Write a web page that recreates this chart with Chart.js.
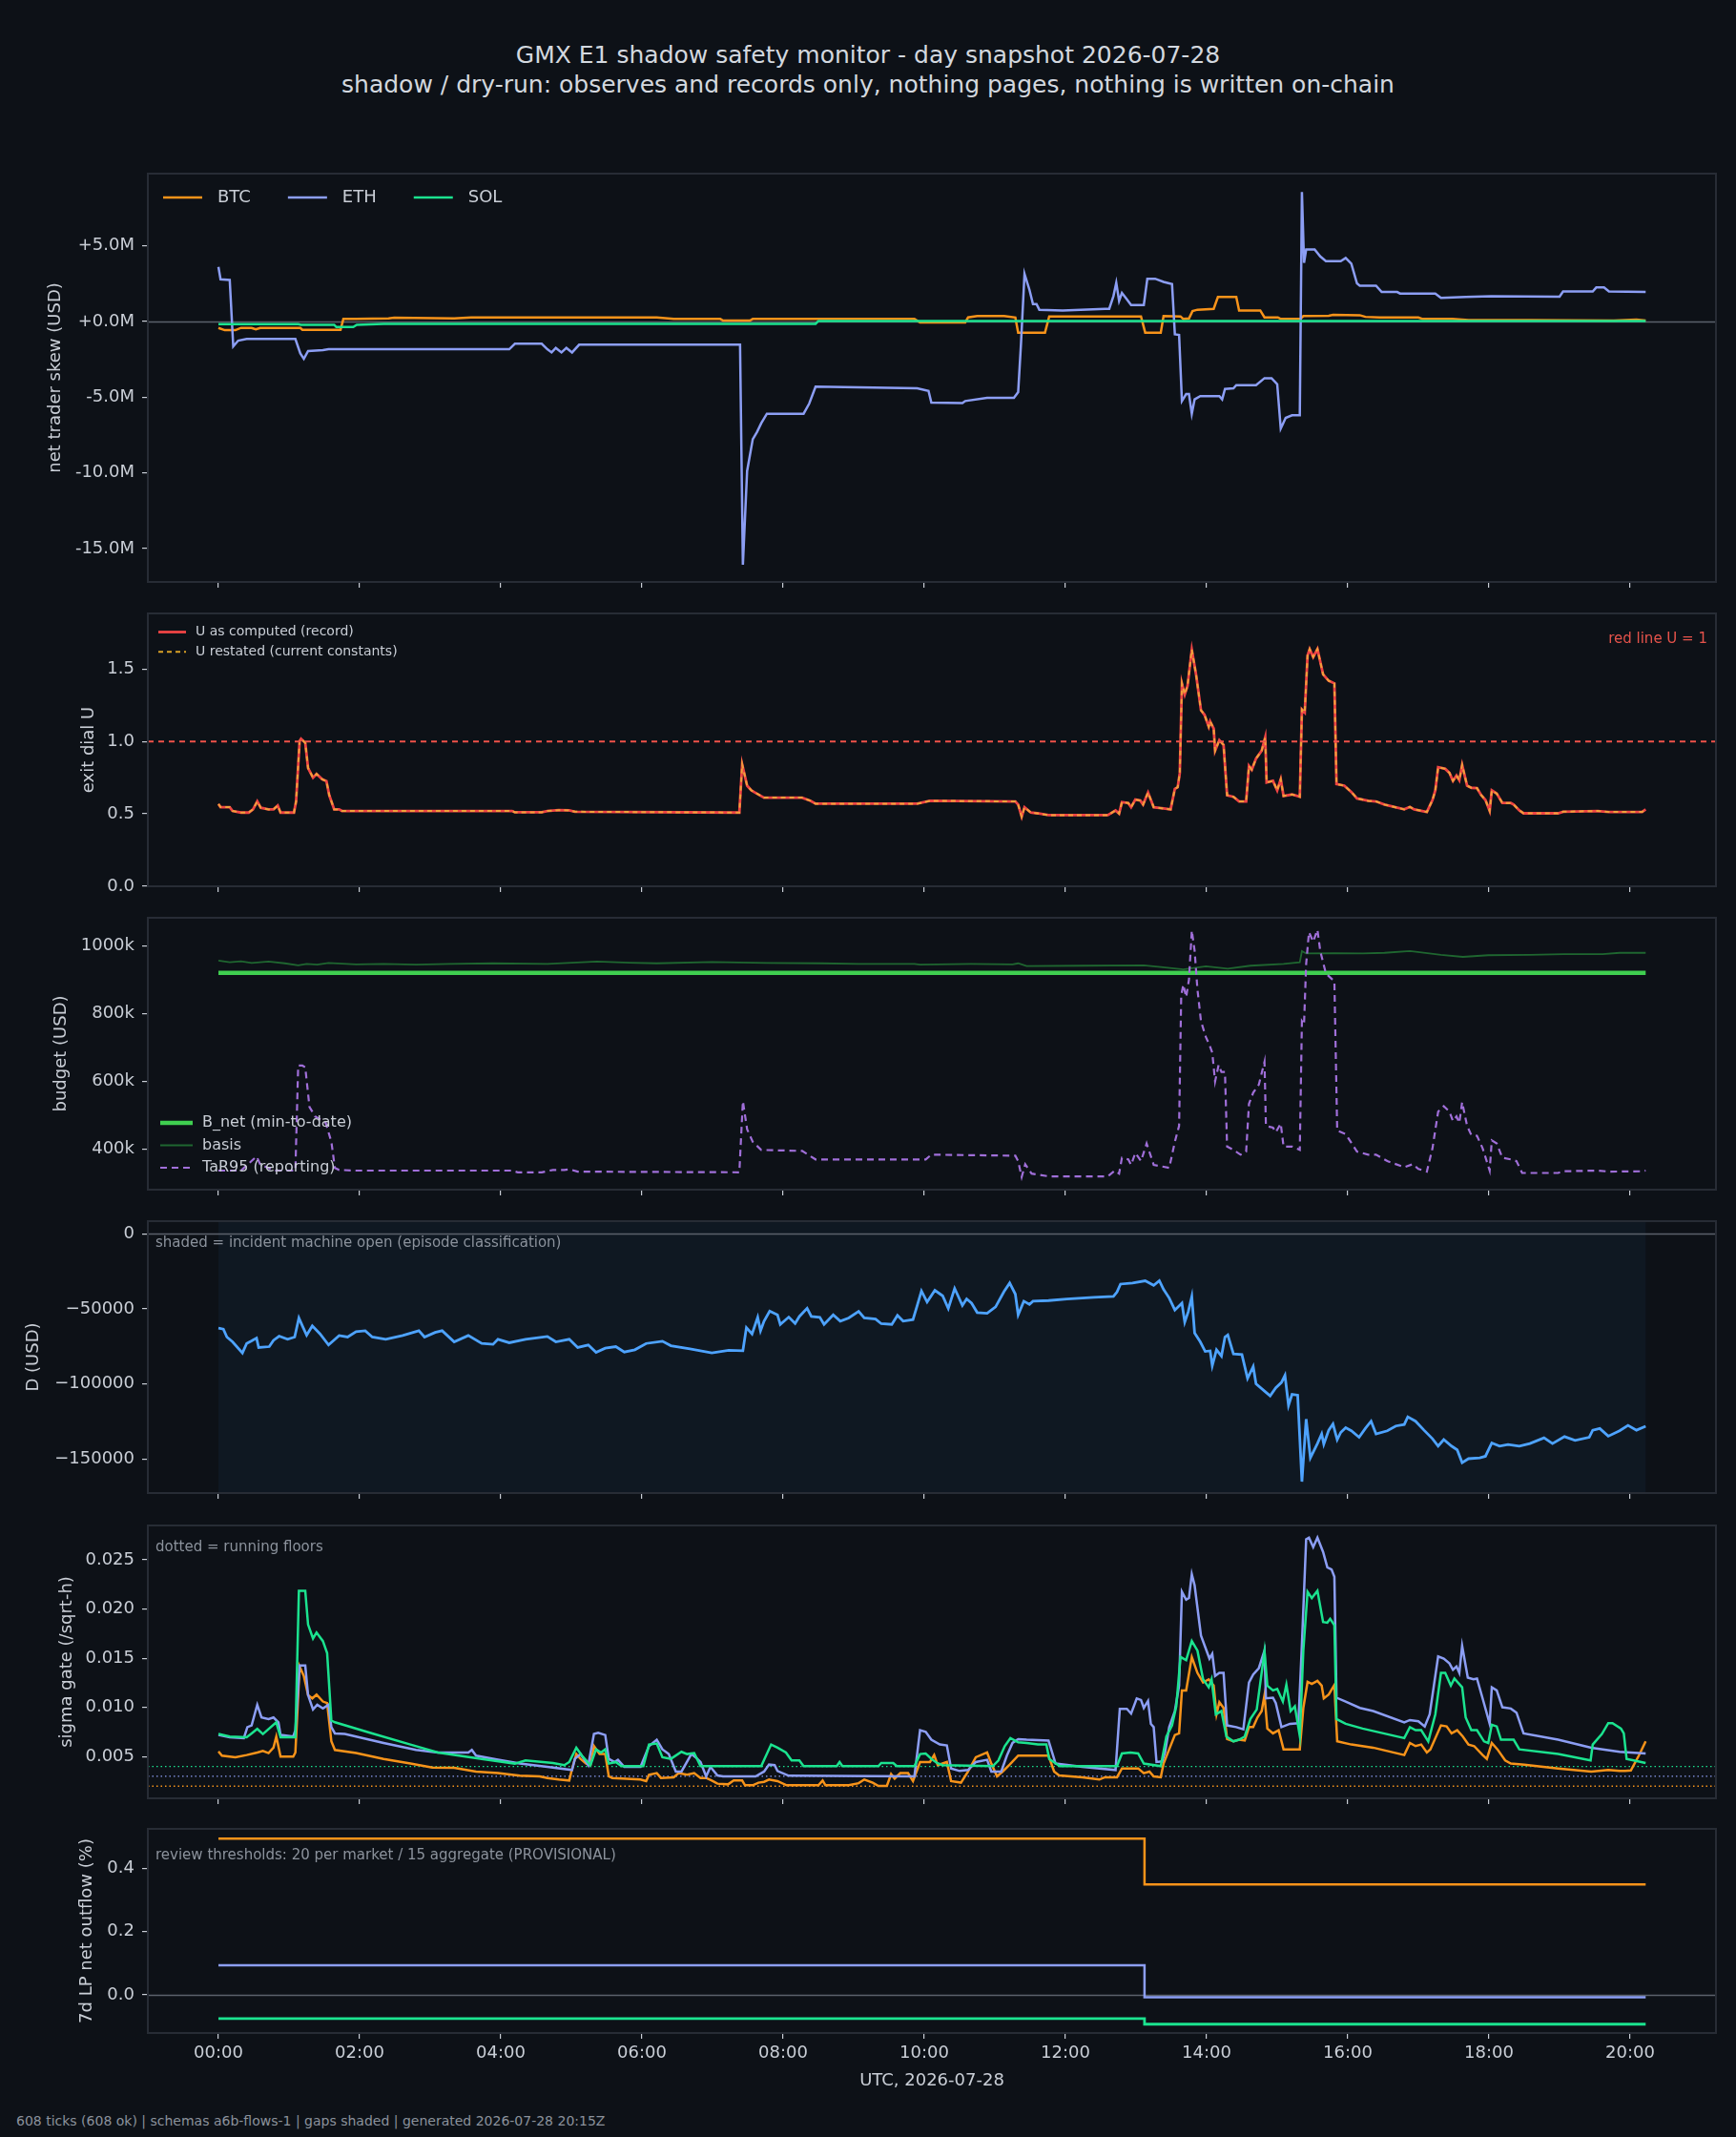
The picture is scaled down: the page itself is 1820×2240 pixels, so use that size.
<!DOCTYPE html>
<html>
<head>
<meta charset="utf-8">
<title>GMX E1 shadow safety monitor</title>
<script src="https://cdn.jsdelivr.net/npm/chart.js@4.4.1/dist/chart.umd.min.js"></script>
<style>
  html, body { margin: 0; padding: 0; background: #0d1117; }
  body { width: 1820px; height: 2240px; position: relative; overflow: hidden; font-family: 'DejaVu Sans', sans-serif; }
  .title { position: absolute; left: 0; width: 1820px; text-align: center; color: #d3d8df; font-size: 25px; line-height: 30px; white-space: nowrap; }
  #footer { position: absolute; left: 17px; top: 2214px; color: #8b929c; font-size: 14px; line-height: 18px; white-space: nowrap; }
  canvas { position: absolute; left: 0; }
</style>
</head>
<body>
<div class="title" style="top:43px">GMX E1 shadow safety monitor - day snapshot 2026-07-28</div>
<div class="title" style="top:74px">shadow / dry-run: observes and records only, nothing pages, nothing is written on-chain</div>
<div id="footer">608 ticks (608 ok) | schemas a6b-flows-1 | gaps shaded | generated 2026-07-28 20:15Z</div>

<script>
// ---- shared axis data ----
const hourTicks = [0, 2, 4, 6, 8, 10, 12, 14, 16, 18, 20];
const hourLabels = ['00:00', '02:00', '04:00', '06:00', '08:00', '10:00', '12:00', '14:00', '16:00', '18:00', '20:00'];
const X_MIN = -1.0, X_MAX = 21.216;

// ---- panel 1: net trader skew (USD millions), [hour, value] ----
const skewTicks = [-15, -10, -5, 0, 5];
const skewLabels = ['-15.0M', '-10.0M', '-5.0M', '+0.0M', '+5.0M'];
const skewBtc = [[0,-0.42],[0.09,-0.57],[0.24,-0.57],[0.32,-0.42],[0.47,-0.42],[0.53,-0.52],[0.59,-0.42],[1.16,-0.42],[1.19,-0.55],[1.73,-0.55],[1.77,0.17],[1.95,0.17],[2.41,0.21],[2.49,0.25],[3.34,0.21],[3.58,0.27],[6.21,0.27],[6.45,0.17],[7.11,0.17],[7.15,0.06],[7.53,0.06],[7.57,0.17],[9.86,0.17],[9.94,-0.06],[10.58,-0.06],[10.62,0.27],[10.75,0.36],[11.13,0.36],[11.29,0.27],[11.33,-0.73],[11.71,-0.73],[11.77,0.34],[13.07,0.34],[13.13,-0.73],[13.35,-0.73],[13.39,0.36],[13.63,0.34],[13.67,0.17],[13.75,0.21],[13.80,0.69],[13.87,0.78],[14.10,0.84],[14.16,1.62],[14.42,1.62],[14.46,0.73],[14.76,0.73],[14.82,0.27],[15.01,0.27],[15.05,0.17],[15.33,0.17],[15.37,0.36],[15.73,0.38],[15.79,0.44],[16.17,0.42],[16.25,0.31],[16.45,0.27],[17.00,0.27],[17.06,0.17],[17.48,0.17],[17.71,0.10],[18.58,0.10],[19.77,0.06],[20.09,0.13],[20.22,0.06]];
const skewEth = [[0,3.61],[0.03,2.79],[0.16,2.75],[0.21,-1.64],[0.28,-1.26],[0.40,-1.15],[1.09,-1.15],[1.16,-2.10],[1.21,-2.46],[1.27,-1.95],[1.48,-1.89],[1.56,-1.83],[4.12,-1.83],[4.20,-1.47],[4.58,-1.47],[4.66,-1.83],[4.72,-2.04],[4.78,-1.74],[4.86,-2.04],[4.93,-1.74],[5.01,-2.04],[5.11,-1.53],[7.39,-1.53],[7.43,-16.06],[7.49,-9.87],[7.57,-7.77],[7.63,-7.30],[7.69,-6.72],[7.77,-6.09],[8.29,-6.09],[8.37,-5.42],[8.46,-4.30],[9.07,-4.35],[9.90,-4.41],[10.06,-4.58],[10.10,-5.35],[10.54,-5.39],[10.58,-5.25],[10.89,-5.04],[11.27,-5.04],[11.33,-4.66],[11.37,-1.47],[11.42,3.15],[11.49,2.10],[11.54,1.15],[11.59,1.15],[11.63,0.78],[11.96,0.73],[12.56,0.84],[12.62,0.84],[12.68,1.68],[12.72,2.56],[12.76,1.36],[12.80,1.89],[12.87,1.47],[12.93,1.09],[13.11,1.09],[13.16,2.83],[13.27,2.83],[13.39,2.62],[13.51,2.48],[13.55,-0.84],[13.61,-0.88],[13.65,-5.25],[13.71,-4.79],[13.75,-4.79],[13.79,-6.09],[13.83,-5.14],[13.91,-4.93],[14.18,-4.93],[14.22,-5.14],[14.26,-4.45],[14.38,-4.41],[14.42,-4.20],[14.70,-4.20],[14.82,-3.74],[14.92,-3.74],[15.00,-4.14],[15.05,-7.07],[15.12,-6.36],[15.21,-6.19],[15.32,-6.19],[15.35,8.56],[15.38,3.88],[15.41,4.76],[15.53,4.76],[15.61,4.30],[15.69,3.99],[15.90,3.99],[15.97,4.20],[16.05,3.82],[16.13,2.52],[16.17,2.37],[16.40,2.37],[16.48,1.95],[16.70,1.95],[16.74,1.85],[17.24,1.85],[17.32,1.57],[17.67,1.62],[18.03,1.68],[19.00,1.64],[19.05,1.99],[19.47,1.99],[19.52,2.25],[19.63,2.25],[19.70,1.99],[20.22,1.95]];
const skewSol = [[0,-0.17],[1.13,-0.17],[1.17,-0.21],[1.64,-0.21],[1.67,-0.36],[1.91,-0.36],[1.96,-0.21],[2.34,-0.15],[8.46,-0.15],[8.50,0.04],[20.22,0.04]];

// ---- panel 2: exit dial U ----
const uTicks = [0, 0.5, 1.0, 1.5];
const uLabels = ['0.0', '0.5', '1.0', '1.5'];
const redLineU = 1.0;
const uComputed = [[0,0.568],[0.03,0.546],[0.16,0.546],[0.20,0.52],[0.32,0.509],[0.43,0.509],[0.49,0.531],[0.55,0.586],[0.60,0.542],[0.71,0.531],[0.78,0.531],[0.84,0.557],[0.88,0.509],[1.07,0.509],[1.10,0.586],[1.15,1.002],[1.17,1.018],[1.23,0.991],[1.27,0.816],[1.34,0.75],[1.39,0.776],[1.47,0.739],[1.53,0.726],[1.57,0.629],[1.64,0.531],[1.71,0.531],[1.75,0.52],[4.16,0.52],[4.20,0.511],[4.58,0.511],[4.66,0.52],[4.82,0.526],[4.97,0.524],[5.05,0.515],[7.38,0.509],[7.42,0.842],[7.49,0.695],[7.55,0.662],[7.61,0.645],[7.73,0.612],[8.27,0.612],[8.39,0.59],[8.46,0.57],[9.90,0.57],[10.08,0.59],[11.29,0.586],[11.33,0.564],[11.38,0.48],[11.42,0.546],[11.51,0.509],[11.60,0.504],[11.76,0.491],[12.60,0.491],[12.71,0.524],[12.76,0.502],[12.80,0.581],[12.89,0.575],[12.93,0.546],[12.99,0.599],[13.06,0.592],[13.10,0.564],[13.17,0.647],[13.25,0.546],[13.39,0.537],[13.49,0.531],[13.55,0.673],[13.59,0.684],[13.62,0.783],[13.65,1.401],[13.69,1.325],[13.73,1.386],[13.79,1.634],[13.85,1.463],[13.92,1.215],[13.97,1.184],[14.03,1.101],[14.05,1.138],[14.10,1.09],[14.12,0.936],[14.18,1.009],[14.24,0.976],[14.29,0.629],[14.38,0.618],[14.46,0.586],[14.56,0.586],[14.60,0.831],[14.64,0.805],[14.70,0.882],[14.78,0.936],[14.83,1.028],[14.85,0.717],[14.94,0.728],[15.00,0.662],[15.05,0.739],[15.09,0.623],[15.21,0.634],[15.32,0.618],[15.35,1.221],[15.39,1.20],[15.43,1.594],[15.46,1.638],[15.51,1.583],[15.57,1.638],[15.65,1.463],[15.73,1.419],[15.81,1.401],[15.84,0.706],[15.95,0.695],[16.05,0.651],[16.13,0.607],[16.29,0.59],[16.40,0.586],[16.52,0.564],[16.80,0.531],[16.88,0.548],[16.94,0.531],[17.12,0.513],[17.20,0.596],[17.24,0.662],[17.28,0.822],[17.38,0.811],[17.44,0.783],[17.49,0.728],[17.54,0.765],[17.58,0.732],[17.62,0.838],[17.69,0.695],[17.75,0.68],[17.83,0.678],[17.89,0.629],[17.95,0.596],[18.01,0.52],[18.04,0.662],[18.11,0.64],[18.19,0.575],[18.31,0.575],[18.35,0.564],[18.43,0.524],[18.49,0.504],[18.98,0.504],[19.05,0.515],[19.54,0.52],[19.70,0.513],[20.17,0.513],[20.22,0.531]];
const uRestated = uComputed.slice();

// ---- panel 3: budget (USD thousands) ----
const budgetTicks = [400, 600, 800, 1000];
const budgetLabels = ['400k', '600k', '800k', '1000k'];
const bNet = [[0,920],[20.22,920]];
const basis = [[0,956],[0.16,951],[0.32,954],[0.47,949],[0.71,953],[0.94,948],[1.13,942],[1.25,946],[1.40,944],[1.56,949],[1.95,945],[2.34,946],[2.80,944],[3.27,946],[3.89,948],[4.66,946],[5.36,953],[5.83,950],[6.21,948],[6.99,952],[7.77,949],[8.54,948],[9.07,946],[9.86,946],[9.94,944],[10.66,946],[11.25,945],[11.33,948],[11.45,940],[12.24,941],[13.11,942],[13.35,937],[13.67,930],[13.99,939],[14.30,932],[14.62,941],[15.09,946],[15.32,951],[15.35,984],[15.41,977],[15.81,978],[16.21,977],[16.52,979],[16.88,984],[17.32,973],[17.63,967],[17.99,972],[18.58,973],[19.06,975],[19.61,975],[19.85,979],[20.22,979]];
const tar95 = [[0,336],[0.32,336],[0.54,378],[0.59,355],[0.78,336],[1.09,336],[1.13,646],[1.19,646],[1.23,641],[1.29,524],[1.37,496],[1.52,477],[1.60,421],[1.65,344],[1.71,338],[1.95,336],[4.16,336],[4.24,331],[4.58,331],[4.74,338],[4.90,338],[4.97,340],[5.09,333],[7.38,331],[7.43,541],[7.49,458],[7.57,421],[7.69,397],[8.27,394],[8.46,369],[10.02,369],[10.10,383],[11.29,380],[11.33,364],[11.38,317],[11.43,355],[11.52,327],[11.76,319],[12.60,319],[12.70,336],[12.76,327],[12.80,374],[12.89,369],[12.93,353],[12.99,388],[13.07,364],[13.15,416],[13.25,353],[13.47,344],[13.55,421],[13.61,468],[13.64,853],[13.67,885],[13.71,848],[13.75,900],[13.79,1045],[13.83,985],[13.87,871],[13.92,777],[13.99,730],[14.04,707],[14.08,684],[14.12,599],[14.17,648],[14.21,627],[14.26,627],[14.29,407],[14.38,397],[14.48,383],[14.56,392],[14.60,533],[14.66,566],[14.74,590],[14.82,657],[14.84,468],[14.94,463],[14.98,449],[15.05,475],[15.09,407],[15.21,407],[15.32,397],[15.35,777],[15.38,768],[15.41,946],[15.45,1040],[15.51,1012],[15.57,1047],[15.61,984],[15.69,918],[15.81,895],[15.85,454],[15.97,444],[16.13,392],[16.29,383],[16.40,383],[16.56,364],[16.80,346],[16.92,355],[17.00,341],[17.12,333],[17.20,402],[17.28,510],[17.36,526],[17.44,510],[17.49,482],[17.54,496],[17.58,477],[17.62,538],[17.69,468],[17.75,441],[17.83,439],[17.91,402],[18.01,336],[18.04,425],[18.11,416],[18.19,374],[18.31,369],[18.39,364],[18.47,329],[18.98,329],[19.05,334],[19.54,336],[19.70,333],[20.17,334],[20.22,336]];

// ---- panel 4: D (USD) ----
const dTicks = [-150000, -100000, -50000, 0];
const dLabels = ['\u2212150000', '\u2212100000', '\u221250000', '0'];
const incidentOpen = [0, 20.22];
const dSeries = [[0,-62900],[0.07,-63500],[0.12,-68800],[0.20,-72000],[0.34,-79400],[0.40,-73100],[0.47,-71400],[0.54,-69500],[0.57,-75800],[0.72,-75200],[0.78,-71000],[0.86,-68200],[0.98,-70300],[1.08,-68800],[1.14,-56100],[1.19,-61400],[1.25,-67600],[1.33,-61400],[1.44,-66700],[1.56,-74100],[1.71,-67800],[1.83,-68800],[1.95,-65200],[2.08,-64600],[2.18,-68800],[2.37,-70300],[2.61,-67800],[2.84,-64600],[2.92,-68800],[3.07,-65700],[3.17,-64600],[3.34,-72000],[3.54,-67800],[3.73,-73100],[3.89,-73700],[3.96,-70300],[4.12,-72600],[4.35,-70300],[4.66,-68400],[4.78,-72000],[4.97,-70300],[5.09,-75800],[5.24,-74100],[5.35,-79000],[5.48,-76200],[5.63,-75200],[5.75,-78800],[5.90,-77300],[6.06,-73100],[6.29,-71600],[6.41,-74600],[6.68,-76700],[6.99,-79400],[7.23,-77700],[7.43,-77900],[7.48,-62500],[7.56,-66700],[7.64,-55700],[7.68,-64600],[7.73,-58200],[7.81,-51500],[7.92,-54000],[7.96,-60400],[8.08,-55500],[8.17,-59700],[8.23,-55100],[8.34,-49600],[8.40,-55100],[8.52,-55700],[8.58,-60400],[8.71,-54000],[8.81,-58200],[8.93,-56100],[9.07,-51700],[9.15,-56100],[9.31,-56800],[9.39,-59900],[9.54,-60400],[9.62,-54400],[9.70,-58200],[9.84,-57200],[9.90,-47700],[9.96,-38100],[10.04,-45500],[10.15,-37700],[10.26,-41300],[10.34,-49800],[10.43,-36400],[10.54,-47700],[10.60,-43400],[10.67,-46200],[10.75,-52500],[10.89,-53000],[11.01,-48700],[11.13,-38500],[11.21,-32800],[11.29,-40200],[11.33,-54000],[11.41,-44900],[11.49,-47000],[11.54,-44900],[11.76,-44500],[12.02,-43400],[12.40,-42400],[12.68,-41700],[12.73,-38800],[12.78,-33500],[12.95,-32800],[13.13,-31300],[13.25,-34300],[13.33,-31300],[13.39,-37100],[13.47,-42800],[13.55,-50800],[13.65,-46200],[13.69,-58900],[13.74,-51900],[13.79,-41900],[13.83,-66100],[13.91,-72000],[13.98,-78400],[14.05,-78000],[14.08,-87900],[14.14,-77300],[14.21,-81500],[14.26,-68800],[14.30,-67400],[14.38,-80100],[14.50,-80500],[14.58,-96400],[14.66,-88500],[14.70,-100000],[14.82,-104800],[14.90,-108000],[14.98,-102700],[15.06,-99100],[15.11,-94300],[15.16,-114400],[15.21,-107000],[15.29,-107600],[15.35,-165200],[15.41,-123500],[15.47,-149300],[15.57,-139800],[15.63,-133400],[15.66,-140200],[15.73,-130900],[15.79,-126700],[15.85,-137200],[15.90,-132400],[15.97,-129200],[16.05,-131300],[16.16,-135600],[16.25,-129600],[16.33,-124900],[16.40,-133400],[16.56,-131300],[16.68,-128100],[16.80,-127100],[16.85,-122000],[16.96,-124900],[17.08,-130900],[17.20,-136600],[17.28,-141500],[17.36,-137200],[17.47,-141500],[17.55,-144000],[17.62,-152500],[17.71,-149900],[17.87,-149300],[17.95,-148300],[18.04,-139400],[18.15,-141500],[18.27,-140400],[18.43,-141500],[18.58,-139800],[18.78,-136000],[18.90,-139800],[19.07,-135200],[19.22,-137700],[19.42,-135600],[19.47,-130900],[19.57,-129800],[19.69,-134900],[19.85,-131300],[19.97,-127700],[20.09,-130900],[20.22,-128300]];

// ---- panel 5: sigma gate (/sqrt-h) ----
const sigmaTicks = [0.005, 0.010, 0.015, 0.020, 0.025];
const sigmaLabels = ['0.005', '0.010', '0.015', '0.020', '0.025'];
const sigmaFloorBtc = 0.002, sigmaFloorEth = 0.003, sigmaFloorSol = 0.004;
const sigmaBtc = [[0,0.00552],[0.05,0.0051],[0.24,0.00494],[0.40,0.00516],[0.55,0.00542],[0.63,0.00558],[0.71,0.00536],[0.78,0.00591],[0.82,0.00704],[0.88,0.005],[1.06,0.005],[1.09,0.00542],[1.15,0.01416],[1.21,0.01319],[1.27,0.01125],[1.33,0.01092],[1.39,0.01131],[1.48,0.0106],[1.54,0.01044],[1.60,0.00655],[1.65,0.00568],[1.95,0.00536],[2.34,0.00477],[2.72,0.00429],[3.03,0.0039],[3.34,0.00387],[3.65,0.00348],[3.96,0.00332],[4.27,0.00306],[4.55,0.00299],[4.66,0.00283],[4.82,0.00267],[4.97,0.00257],[5.00,0.00348],[5.07,0.00526],[5.13,0.00477],[5.21,0.00429],[5.27,0.00413],[5.32,0.00607],[5.40,0.00526],[5.48,0.00526],[5.53,0.00299],[5.58,0.00283],[5.98,0.00267],[6.06,0.00251],[6.10,0.00316],[6.21,0.00332],[6.27,0.00283],[6.45,0.0029],[6.52,0.00332],[6.64,0.00316],[6.74,0.00332],[6.83,0.00283],[6.91,0.00283],[6.99,0.00257],[7.07,0.00225],[7.22,0.00218],[7.30,0.00257],[7.42,0.00257],[7.46,0.00209],[7.57,0.00209],[7.65,0.00235],[7.73,0.00244],[7.80,0.00267],[7.92,0.00251],[8.05,0.00209],[8.50,0.00209],[8.56,0.00257],[8.60,0.00209],[8.93,0.00209],[9.07,0.0023],[9.15,0.00267],[9.27,0.00235],[9.35,0.00202],[9.47,0.00202],[9.53,0.00322],[9.58,0.00277],[9.66,0.00332],[9.77,0.00332],[9.84,0.00251],[9.94,0.00445],[10.08,0.00445],[10.14,0.00516],[10.19,0.00413],[10.32,0.00445],[10.38,0.00251],[10.52,0.00235],[10.62,0.00348],[10.73,0.00494],[10.89,0.00542],[10.95,0.00429],[11.03,0.00299],[11.11,0.00348],[11.21,0.00419],[11.33,0.0051],[11.76,0.0051],[11.84,0.00348],[11.91,0.00309],[12.24,0.0029],[12.48,0.00267],[12.56,0.0029],[12.73,0.0029],[12.80,0.0038],[13.03,0.0038],[13.11,0.00332],[13.19,0.00348],[13.25,0.00299],[13.35,0.0029],[13.39,0.00429],[13.47,0.00574],[13.55,0.0072],[13.61,0.00736],[13.65,0.01173],[13.71,0.01173],[13.79,0.01513],[13.87,0.01351],[13.95,0.01254],[14.03,0.01286],[14.10,0.01222],[14.14,0.0093],[14.18,0.01053],[14.24,0.00995],[14.29,0.00678],[14.38,0.00655],[14.46,0.00672],[14.54,0.00665],[14.60,0.008],[14.66,0.008],[14.72,0.00898],[14.78,0.00963],[14.82,0.01125],[14.86,0.00785],[14.94,0.00736],[15.02,0.00769],[15.09,0.00574],[15.32,0.00574],[15.37,0.00995],[15.43,0.0126],[15.49,0.01238],[15.57,0.0127],[15.63,0.01222],[15.66,0.01092],[15.73,0.01131],[15.81,0.01228],[15.85,0.00655],[16.05,0.00623],[16.36,0.00591],[16.80,0.00516],[16.88,0.00639],[16.96,0.00607],[17.04,0.00623],[17.12,0.00542],[17.17,0.00574],[17.32,0.00817],[17.40,0.00807],[17.47,0.00736],[17.55,0.00769],[17.63,0.00704],[17.71,0.00623],[17.79,0.00607],[17.91,0.00516],[17.97,0.00477],[18.04,0.00639],[18.12,0.00574],[18.23,0.00461],[18.31,0.00429],[18.50,0.00419],[18.98,0.0038],[19.45,0.00348],[19.69,0.00364],[19.85,0.00354],[19.93,0.00355],[20.01,0.0036],[20.13,0.0052],[20.22,0.00655]];
const sigmaEth = [[0,0.0072],[0.16,0.00697],[0.36,0.00688],[0.41,0.008],[0.47,0.00817],[0.55,0.01027],[0.61,0.00898],[0.71,0.00882],[0.78,0.00898],[0.85,0.00849],[0.88,0.0072],[1.06,0.00704],[1.09,0.00769],[1.15,0.01426],[1.23,0.01426],[1.27,0.01125],[1.34,0.00979],[1.40,0.01027],[1.48,0.00989],[1.56,0.01027],[1.60,0.008],[1.65,0.00736],[1.79,0.0073],[2.34,0.00639],[2.80,0.00568],[3.11,0.00542],[3.54,0.00542],[3.59,0.00568],[3.65,0.0051],[3.96,0.00468],[4.27,0.00429],[4.66,0.00396],[5.01,0.00364],[5.05,0.00477],[5.13,0.00526],[5.24,0.00413],[5.32,0.0073],[5.38,0.00743],[5.48,0.0072],[5.53,0.00477],[5.61,0.00445],[5.66,0.00468],[5.75,0.00396],[5.98,0.00396],[6.10,0.00607],[6.21,0.00672],[6.29,0.00574],[6.38,0.00526],[6.48,0.00348],[6.56,0.00348],[6.70,0.00526],[6.76,0.00494],[6.83,0.00445],[6.91,0.00299],[6.97,0.00396],[7.07,0.00309],[7.15,0.00299],[7.61,0.00299],[7.73,0.00348],[7.80,0.00419],[7.88,0.00413],[7.92,0.00354],[8.08,0.00306],[9.86,0.00299],[9.94,0.00769],[10.02,0.00752],[10.10,0.00672],[10.22,0.00623],[10.32,0.00613],[10.38,0.0038],[10.50,0.00354],[10.62,0.00364],[10.73,0.00445],[10.89,0.00468],[10.95,0.00348],[11.09,0.00348],[11.17,0.0051],[11.25,0.00639],[11.33,0.00678],[11.45,0.00672],[11.76,0.00662],[11.86,0.00429],[12.24,0.00396],[12.71,0.00364],[12.77,0.00985],[12.87,0.00985],[12.93,0.00937],[13.01,0.01092],[13.07,0.01076],[13.11,0.00995],[13.17,0.01066],[13.21,0.00833],[13.25,0.008],[13.29,0.00445],[13.37,0.00451],[13.41,0.00542],[13.47,0.008],[13.55,0.00963],[13.61,0.01222],[13.65,0.02176],[13.71,0.02095],[13.75,0.02112],[13.79,0.02354],[13.83,0.02241],[13.92,0.0173],[13.99,0.01594],[14.04,0.01497],[14.08,0.01545],[14.12,0.01319],[14.18,0.01351],[14.24,0.01351],[14.29,0.00817],[14.42,0.008],[14.52,0.00778],[14.60,0.01254],[14.66,0.01335],[14.74,0.014],[14.82,0.01578],[14.84,0.01092],[14.94,0.01099],[14.98,0.01044],[15.06,0.008],[15.18,0.00833],[15.30,0.0084],[15.35,0.01642],[15.41,0.0271],[15.45,0.02726],[15.51,0.02629],[15.57,0.02726],[15.65,0.02581],[15.71,0.02425],[15.77,0.02403],[15.81,0.02328],[15.84,0.01099],[15.97,0.0106],[16.17,0.00995],[16.36,0.00963],[16.80,0.00849],[16.88,0.00872],[17.00,0.00859],[17.09,0.00807],[17.16,0.0093],[17.28,0.01519],[17.36,0.01497],[17.44,0.01448],[17.49,0.01383],[17.54,0.01416],[17.58,0.01351],[17.62,0.01626],[17.70,0.01303],[17.78,0.01286],[17.83,0.01293],[17.91,0.01092],[18.01,0.00833],[18.04,0.01205],[18.11,0.01173],[18.19,0.01002],[18.31,0.00989],[18.39,0.00947],[18.49,0.00736],[18.98,0.00672],[19.45,0.00591],[19.85,0.00549],[20.22,0.00532]];
const sigmaSol = [[0,0.0073],[0.16,0.00704],[0.40,0.00697],[0.47,0.00736],[0.55,0.00782],[0.63,0.0073],[0.82,0.00849],[0.88,0.00697],[1.09,0.00697],[1.14,0.02186],[1.23,0.02186],[1.27,0.01843],[1.34,0.01701],[1.39,0.01762],[1.48,0.01675],[1.54,0.01552],[1.60,0.00866],[1.65,0.00849],[2.18,0.00736],[2.72,0.00623],[3.11,0.00542],[3.73,0.00477],[4.20,0.00429],[4.35,0.00461],[4.74,0.00435],[4.90,0.00413],[4.97,0.00445],[5.07,0.00591],[5.15,0.0051],[5.27,0.00413],[5.35,0.00574],[5.42,0.00542],[5.48,0.00574],[5.53,0.00429],[5.63,0.00445],[5.71,0.00403],[6.02,0.00403],[6.10,0.00623],[6.21,0.00633],[6.29,0.00494],[6.41,0.00477],[6.56,0.00549],[6.64,0.00526],[6.74,0.00536],[6.83,0.00403],[7.69,0.00403],[7.83,0.00623],[7.92,0.00591],[8.04,0.00542],[8.12,0.00461],[8.23,0.00461],[8.29,0.00403],[8.76,0.00403],[8.80,0.00445],[8.84,0.00403],[9.35,0.00403],[9.39,0.00435],[9.56,0.00435],[9.61,0.00403],[9.86,0.00403],[9.94,0.00526],[10.02,0.00532],[10.10,0.00477],[10.18,0.00435],[10.26,0.00413],[10.97,0.00403],[11.05,0.00461],[11.14,0.00607],[11.22,0.00688],[11.33,0.00646],[11.45,0.00639],[11.61,0.00623],[11.73,0.00623],[11.77,0.00477],[11.92,0.00403],[12.73,0.00403],[12.80,0.00532],[12.92,0.00542],[13.03,0.00532],[13.11,0.00429],[13.35,0.00403],[13.43,0.00704],[13.51,0.00817],[13.57,0.01011],[13.63,0.01513],[13.71,0.01481],[13.79,0.01675],[13.87,0.01578],[13.95,0.01286],[14.03,0.01205],[14.07,0.01286],[14.13,0.0093],[14.21,0.00963],[14.28,0.00704],[14.38,0.00655],[14.46,0.00672],[14.54,0.00704],[14.62,0.00882],[14.71,0.00979],[14.82,0.01571],[14.86,0.01222],[14.94,0.01173],[15.00,0.01189],[15.08,0.0106],[15.13,0.01231],[15.19,0.00963],[15.25,0.01011],[15.32,0.0071],[15.37,0.01578],[15.43,0.02176],[15.49,0.02112],[15.57,0.02186],[15.65,0.01869],[15.71,0.01862],[15.75,0.01901],[15.81,0.01837],[15.84,0.00882],[15.97,0.00833],[16.21,0.00785],[16.80,0.00688],[16.88,0.008],[16.96,0.00769],[17.04,0.00769],[17.14,0.00655],[17.24,0.0093],[17.32,0.01351],[17.38,0.01351],[17.46,0.01222],[17.51,0.01293],[17.62,0.01205],[17.67,0.00898],[17.75,0.00769],[17.83,0.00769],[17.93,0.00655],[17.99,0.00639],[18.04,0.00824],[18.11,0.00807],[18.17,0.00672],[18.35,0.00672],[18.43,0.00574],[18.98,0.00526],[19.44,0.00461],[19.47,0.00623],[19.60,0.0073],[19.69,0.0084],[19.75,0.0084],[19.87,0.00785],[19.91,0.00736],[19.95,0.00477],[20.05,0.00461],[20.22,0.00435]];

// ---- panel 6: 7d LP net outflow (%) ----
const lpTicks = [0.0, 0.2, 0.4];
const lpLabels = ['0.0', '0.2', '0.4'];
const lpBtc = [[0,0.495],[13.12,0.35],[20.22,0.35]];
const lpEth = [[0,0.094],[13.12,-0.008],[20.22,-0.008]];
const lpSol = [[0,-0.075],[13.12,-0.093],[20.22,-0.093]];

// ---- styling ----
const FONT = "'DejaVu Sans', sans-serif";
const TXT = '#c9ced6';
const NOTE = '#8b929c';
const FRAME = '#272c35';
const ZERO = '#5b616b';
const C_BTC = '#f7931a', C_ETH = '#8c9ef4', C_SOL = '#1be38f';
const PAD = { top: 30, bottom: 20, right: 21 };
const AXIS_W = 155;

const pts = arr => arr.map(([x, y]) => ({ x, y }));
const line = (label, data, color, extra) => Object.assign({
  label, data: pts(data), borderColor: color, backgroundColor: color,
  borderWidth: 2.5, pointRadius: 0, tension: 0, fill: false
}, extra || {});
const hline = (value, color, extra) => line('', [[X_MIN, value], [X_MAX, value]], color, Object.assign({ noLegend: true }, extra));

// decorations per canvas (frame, zero line, shading, legends, notes)
const decor = {};
Chart.register({
  id: 'panelDecor',
  beforeDatasetsDraw(chart) {
    const d = decor[chart.canvas.id] || {};
    const { ctx, chartArea: a } = chart;
    const x = chart.scales.x, y = chart.scales.y;
    ctx.save();
    if (d.shade) {
      const x0 = x.getPixelForValue(d.shade[0]), x1 = x.getPixelForValue(d.shade[1]);
      ctx.fillStyle = '#0f1822';
      ctx.fillRect(x0, a.top, x1 - x0, a.bottom - a.top);
    }
    if (d.zeroLine) {
      const y0 = Math.round(y.getPixelForValue(0)) + 0.5;
      ctx.strokeStyle = ZERO; ctx.lineWidth = 1.4;
      ctx.beginPath(); ctx.moveTo(a.left, y0); ctx.lineTo(a.right, y0); ctx.stroke();
    }
    ctx.restore();
  },
  afterDatasetsDraw(chart) {
    const d = decor[chart.canvas.id] || {};
    const { ctx, chartArea: a } = chart;
    ctx.save();
    ctx.strokeStyle = FRAME; ctx.lineWidth = 2;
    ctx.strokeRect(a.left, a.top, a.right - a.left, a.bottom - a.top);

    (d.notes || []).forEach(n => {
      ctx.font = `${n.size}px ${FONT}`;
      ctx.fillStyle = n.color;
      ctx.textBaseline = 'middle';
      ctx.textAlign = n.right ? 'right' : 'left';
      ctx.fillText(n.text, n.right ? a.right - n.dx : a.left + n.dx, a.top + n.dy);
    });

    const lg = d.legend;
    if (lg) {
      const items = chart.data.datasets.filter(ds => !ds.noLegend);
      ctx.font = `${lg.size}px ${FONT}`;
      ctx.textBaseline = 'middle';
      ctx.textAlign = 'left';
      let x = a.left + lg.dx;
      items.forEach((ds, i) => {
        let yy;
        if (lg.horizontal) yy = a.top + lg.dy;
        else if (lg.fromBottom) yy = a.bottom - lg.dy - (items.length - 1 - i) * lg.rowGap;
        else yy = a.top + lg.dy + i * lg.rowGap;
        const x0 = lg.horizontal ? x : a.left + lg.dx;
        ctx.strokeStyle = ds.legendColor || ds.borderColor;
        ctx.lineWidth = ds.borderWidth;
        ctx.setLineDash(ds.borderDash || []);
        ctx.beginPath(); ctx.moveTo(x0, yy); ctx.lineTo(x0 + lg.sample, yy); ctx.stroke();
        ctx.setLineDash([]);
        ctx.fillStyle = TXT;
        ctx.fillText(ds.label, x0 + lg.sample + lg.gap, yy);
        if (lg.horizontal) x = x0 + lg.sample + lg.gap + ctx.measureText(ds.label).width + lg.spacing;
      });
    }
    ctx.restore();
  }
});

function panel(id, top, height, cfg) {
  const xh = cfg.xLabels ? 61 : 8;
  const canvas = document.createElement('canvas');
  canvas.id = id;
  canvas.width = 1820;
  canvas.height = PAD.top + height + xh + PAD.bottom;
  canvas.style.top = (top - PAD.top) + 'px';
  document.body.appendChild(canvas);
  decor[id] = cfg.decor || {};

  return new Chart(canvas.getContext('2d'), {
    type: 'line',
    data: { datasets: cfg.datasets },
    options: {
      responsive: false,
      animation: false,
      devicePixelRatio: 1,
      layout: { padding: { left: 0, right: PAD.right, top: PAD.top, bottom: PAD.bottom } },
      plugins: { legend: { display: false }, tooltip: { enabled: false } },
      elements: { point: { radius: 0 }, line: { tension: 0 } },
      scales: {
        x: {
          type: 'linear', min: X_MIN, max: X_MAX,
          afterBuildTicks: s => { s.ticks = hourTicks.map(v => ({ value: v })); },
          afterFit: s => { s.height = xh; },
          grid: { drawOnChartArea: false, drawTicks: true, tickLength: 6, color: TXT, lineWidth: 1.2 },
          border: { display: false },
          ticks: {
            display: !!cfg.xLabels, autoSkip: false, maxRotation: 0, padding: 5,
            color: TXT, font: { family: FONT, size: 18 },
            callback: (v, i) => hourLabels[i]
          },
          title: {
            display: !!cfg.xLabels, text: 'UTC, 2026-07-28', color: TXT,
            font: { family: FONT, size: 18 }, padding: { top: 0, bottom: 0 }
          }
        },
        y: {
          type: 'linear', min: cfg.yMin, max: cfg.yMax,
          afterBuildTicks: s => { s.ticks = cfg.yTicks.map(v => ({ value: v })); },
          afterFit: s => { s.width = AXIS_W; },
          grid: { drawOnChartArea: false, drawTicks: true, tickLength: 6, color: TXT, lineWidth: 1.2 },
          border: { display: false },
          ticks: {
            autoSkip: false, padding: 8, color: TXT, font: { family: FONT, size: 18 },
            callback: (v, i) => cfg.yLabels[i]
          },
          title: {
            display: true, text: cfg.yTitle, color: TXT,
            font: { family: FONT, size: 18 }, padding: { top: cfg.yTitleX - 10.8, bottom: 0 }
          }
        }
      }
    }
  });
}

// panel 1
panel('skew', 182, 428, {
  yMin: -17.2, yMax: 9.77, yTicks: skewTicks, yLabels: skewLabels,
  yTitle: 'net trader skew (USD)', yTitleX: 58,
  datasets: [
    line('BTC', skewBtc, C_BTC, { order: 3 }),
    line('ETH', skewEth, C_ETH, { order: 2 }),
    line('SOL', skewSol, C_SOL, { order: 1 })
  ],
  decor: { zeroLine: true, legend: { horizontal: true, dx: 16, dy: 25, sample: 41, gap: 16, spacing: 39, size: 18 } }
});

// panel 2
panel('udial', 643, 286, {
  yMin: 0, yMax: 1.884, yTicks: uTicks, yLabels: uLabels,
  yTitle: 'exit dial U', yTitleX: 93,
  datasets: [
    line('U as computed (record)', uComputed, '#ef4444', { borderWidth: 2.8, order: 2 }),
    line('U restated (current constants)', uRestated, '#f0a23a', { borderWidth: 2, borderDash: [5, 4], legendColor: '#d9a127', order: 1 }),
    hline(redLineU, '#f0524a', { borderWidth: 2, borderDash: [6, 5], order: 0 })
  ],
  decor: {
    legend: { dx: 11, dy: 19.5, rowGap: 20.7, sample: 29, gap: 10, size: 14 },
    notes: [{ text: 'red line U = 1', dx: 9, dy: 27, size: 15, color: '#e5534b', right: true }]
  }
});

// panel 3
panel('budget', 962, 285, {
  yMin: 279.7, yMax: 1082.5, yTicks: budgetTicks, yLabels: budgetLabels,
  yTitle: 'budget (USD)', yTitleX: 64,
  datasets: [
    line('B_net (min-to-date)', bNet, '#3fcf50', { borderWidth: 4.5, order: 1 }),
    line('basis', basis, '#1f6630', { borderWidth: 1.8, order: 2 }),
    line('TaR95 (reporting)', tar95, '#a06fd9', { borderWidth: 2.2, borderDash: [7, 5], order: 0 })
  ],
  decor: { legend: { fromBottom: true, dx: 13, dy: 23, rowGap: 23.5, sample: 34, gap: 10, size: 16 } }
});

// panel 4
panel('dusd', 1280, 285, {
  yMin: -172800, yMax: 8450, yTicks: dTicks, yLabels: dLabels,
  yTitle: 'D (USD)', yTitleX: 35,
  datasets: [line('D', dSeries, '#4ea3ff', { borderWidth: 2.8 })],
  decor: {
    zeroLine: true, shade: incidentOpen,
    notes: [{ text: 'shaded = incident machine open (episode classification)', dx: 8, dy: 23, size: 15, color: NOTE }]
  }
});

// panel 5
panel('sigma', 1599, 286, {
  yMin: 0.00076, yMax: 0.0285, yTicks: sigmaTicks, yLabels: sigmaLabels,
  yTitle: 'sigma gate (/sqrt-h)', yTitleX: 70,
  datasets: [
    line('BTC', sigmaBtc, C_BTC, { order: 3 }),
    line('ETH', sigmaEth, C_ETH, { order: 2 }),
    line('SOL', sigmaSol, C_SOL, { order: 1 }),
    hline(sigmaFloorBtc, C_BTC, { borderWidth: 1.4, borderDash: [1.5, 3], order: 4 }),
    hline(sigmaFloorEth, C_ETH, { borderWidth: 1.4, borderDash: [1.5, 3], order: 4 }),
    hline(sigmaFloorSol, C_SOL, { borderWidth: 1.4, borderDash: [1.5, 3], order: 4 })
  ],
  decor: { notes: [{ text: 'dotted = running floors', dx: 8, dy: 23, size: 15, color: NOTE }] }
});

// panel 6
panel('lpflow', 1917, 214, {
  xLabels: true,
  yMin: -0.121, yMax: 0.526, yTicks: lpTicks, yLabels: lpLabels,
  yTitle: '7d LP net outflow (%)', yTitleX: 91,
  datasets: [
    line('BTC', lpBtc, C_BTC, { stepped: true, order: 3 }),
    line('ETH', lpEth, C_ETH, { stepped: true, order: 2 }),
    line('SOL', lpSol, C_SOL, { stepped: true, borderWidth: 2.8, order: 1 })
  ],
  decor: {
    zeroLine: true,
    notes: [{ text: 'review thresholds: 20 per market / 15 aggregate (PROVISIONAL)', dx: 8, dy: 28, size: 15, color: NOTE }]
  }
});
</script>
</body>
</html>
